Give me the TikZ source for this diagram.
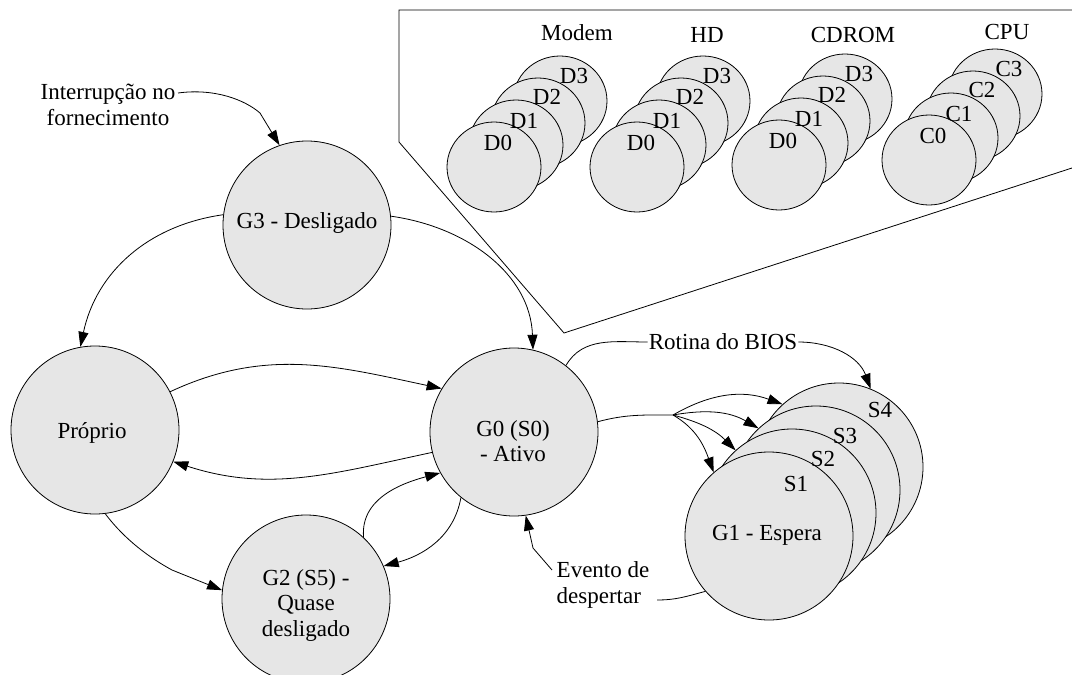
\documentclass[tikz,border=0pt]{standalone}
\usepackage{fontspec}
\setmainfont{Liberation Serif}
\usetikzlibrary{arrows.meta,shapes.geometric}
\definecolor{stategray}{RGB}{230,230,230}
\begin{document}
\begin{tikzpicture}[x=1pt,y=1pt,
  state/.style={circle,draw,fill=stategray,minimum size=168pt,inner sep=0pt,line width=0.8pt},
  dev/.style={ellipse,draw,fill=stategray,minimum width=94pt,minimum height=90pt,inner sep=0pt,line width=0.8pt},
  lbl/.style={font=\fontsize{23}{25.5}\selectfont,inner sep=0pt,align=center},
  conn/.style={line width=0.8pt},
  arr/.style={conn,-{Triangle[length=15pt,width=10pt]}}]
\useasboundingbox (0,0) rectangle (1072,-675);

% device power-state panel
\draw[conn] (1072,-10) -- (399,-10) -- (399,-142) -- (564,-333) -- (1072,-168);
\foreach \g/\cx/\cy/\p in {modem/494/167/D, hd/637/167/D, cdrom/779/165/D, cpu/929/160/C}{
  \foreach \i in {3,2,1,0}{
    \node[dev] (\g\i) at ({\cx+22*\i},{-\cy+22*\i}) {};
  }
  \foreach \i/\dx/\dy in {0/4/24,1/8/24,2/9/26,3/14/25}{
    \node[lbl] (\g-t\i) at ({\cx+22*\i+\dx},{-\cy+22*\i+\dy}) {\p\i};
  }
}
\node[lbl] (modemT) at (577,-33) {Modem};
\node[lbl] (hdT) at (707,-35) {HD};
\node[lbl] (cdromT) at (853,-35) {CDROM};
\node[lbl] (cpuT) at (1007,-32) {CPU};

% global states
\node[state] (G3) at (307,-225) {};
\node[state] (P) at (95,-430) {};
\node[state] (G0) at (514,-432) {};
\node[state] (G2) at (306,-599) {};
\node[state] (S4) at (839,-467) {};
\node[state] (S3) at (816,-490) {};
\node[state] (S2) at (792,-513) {};
\node[state] (S1) at (769,-536) {};

\node[lbl] (G3t) at (307,-223) {G3 - Desligado};
\node[lbl] (Pt) at (92,-433) {Próprio};
\node[lbl] (G0t) at (513,-441) {G0 (S0)\\- Ativo};
\node[lbl] (G2t) at (306,-605) {G2 (S5) -\\Quase\\desligado};
\node[lbl] (S1t) at (796,-484) {S1};
\node[lbl] (S2t) at (823,-459) {S2};
\node[lbl] (S3t) at (845,-436) {S3};
\node[lbl] (S4t) at (880,-410) {S4};
\node[lbl] (G1t) at (767,-535) {G1 - Espera};

% free labels
\node[lbl] (intr) at (108,-105) {Interrupção no\\fornecimento};
\node[lbl,inner sep=1pt] (rot) at (723,-342) {Rotina do BIOS};
\node[lbl,align=left] (evt) at (603,-585) {Evento de\\despertar};

% transitions
\coordinate (intrEnd) at (178,-93);
\draw[arr] (intrEnd) .. controls (215,-88) and (245,-100) .. (260,-113) -- (G3.109);
\draw[arr] (G3.173) to[out=188,in=78] (P.100);
\draw[arr] (G3.6) to[out=-8,in=92] (G0.77);
\draw[arr] (P.27) to[out=25,in=168] (G0.149);
\draw[arr] (G0.194) to[out=192,in=-18] (P.-22);
\draw[arr] (G2.47) to[out=95,in=195] (G0.209);
\draw[arr] (G0.231) to[out=-100,in=15] (G2.23);
\draw[arr] (P.-83) .. controls (125,-540) and (150,-558) .. (172,-570) -- (G2.174);
\draw[conn] (G0.52) to[out=60,in=180] (rot.west);
\draw[arr] (rot.east) to[out=0,in=110] (S4.68);
\coordinate (fork) at (673,-415);
\draw[conn] (G0.7) to[out=15,in=180] (fork);
\draw[arr] (fork) to[out=30,in=160] (S4.132);
\draw[arr] (fork) to[out=10,in=150] (S3.133);
\draw[arr] (fork) to[out=-15,in=135] (S2.132);
\draw[arr] (fork) to[out=-30,in=110] (S1.131);
\coordinate (evtR) at (657,-600);
\coordinate (evtL) at (552,-570);
\draw[conn] (S1.221) to[out=195,in=0] (evtR);
\draw[arr] (evtL) -- (533,-548) -- (G0.-82);
\end{tikzpicture}
\end{document}
